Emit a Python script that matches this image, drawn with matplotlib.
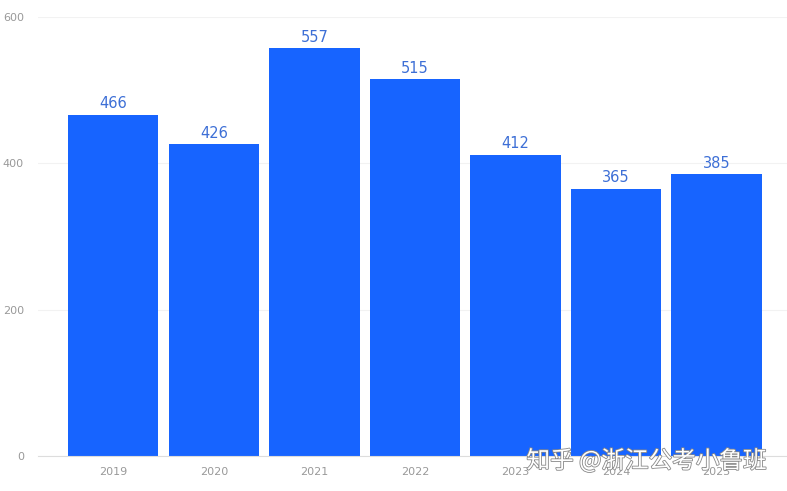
import matplotlib.pyplot as plt
import matplotlib.patheffects as pe

years = ["2019", "2020", "2021", "2022", "2023", "2024", "2025"]
values = [466, 426, 557, 515, 412, 365, 385]
y_ticks = [0, 200, 400, 600]

bar_color = "#1764ff"
label_color = "#3d6fd6"
tick_color = "#999999"

fig = plt.figure(figsize=(7.87, 4.91), dpi=100)
ax = fig.add_axes([0.048, 0.0713, 0.952, 0.8941])

x = list(range(len(years)))
bars = ax.bar(x, values, width=0.9, color=bar_color, zorder=3)
for xi, v in zip(x, values):
    ax.text(xi, v + 5, str(v), ha="center", va="bottom", color=label_color,
            fontsize=10.5, zorder=4)

ax.set_xlim(-0.75, 6.7)
ax.set_ylim(0, 600)
ax.set_yticks(y_ticks)
ax.set_xticks(x)
ax.set_xticklabels(years)
ax.tick_params(axis="both", length=0, labelsize=8, colors=tick_color)
ax.tick_params(axis="x", pad=8)
ax.tick_params(axis="y", pad=10)
ax.grid(axis="y", color="#f2f2f2", linewidth=0.8, zorder=0)
for side in ["top", "right", "left"]:
    ax.spines[side].set_visible(False)
ax.spines["bottom"].set_color("#dddddd")
ax.spines["bottom"].set_zorder(5)

# watermark
fig.text(0.669, 0.062, "知乎 @浙江公考小鲁班", fontsize=17,
         family=["Noto Sans CJK SC", "DejaVu Sans"], color="white",
         ha="left", va="center", zorder=10,
         path_effects=[pe.withStroke(linewidth=1.2, foreground="#888888")])

fig.savefig("out.png", dpi=100)
